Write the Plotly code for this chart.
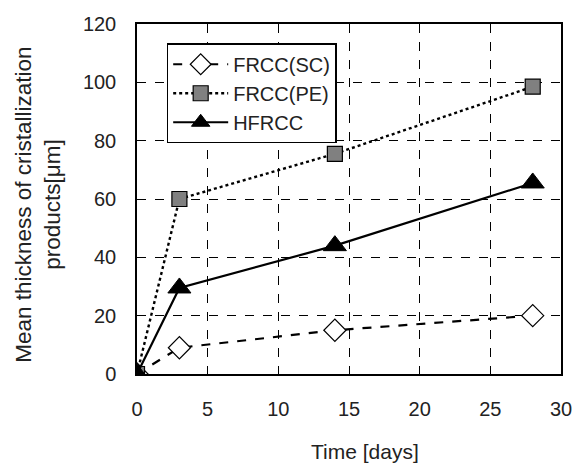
import plotly.graph_objects as go

days = [0, 3, 14, 28]
frcc_sc = [0, 9, 15, 20]
frcc_pe = [0, 60, 75.5, 98.5]
hfrcc = [0, 29.5, 44, 65.5]

x_ticks = [0, 5, 10, 15, 20, 25, 30]
y_ticks = [0, 20, 40, 60, 80, 100, 120]

FONT = "Liberation Sans, Arial"

fig = go.Figure()
fig.add_trace(go.Scatter(x=days, y=frcc_sc, name="FRCC(SC)", mode="lines+markers",
                         line=dict(color="black", width=2.2, dash="dash"),
                         marker=dict(symbol="diamond", size=17, color="white",
                                     line=dict(color="black", width=1.2))))
fig.add_trace(go.Scatter(x=days, y=frcc_pe, name="FRCC(PE)", mode="lines+markers",
                         line=dict(color="black", width=2.4, dash="dot"),
                         marker=dict(symbol="square", size=15, color="#808080",
                                     line=dict(color="black", width=1.2))))
fig.add_trace(go.Scatter(x=days, y=hfrcc, name="HFRCC", mode="lines+markers",
                         line=dict(color="black", width=2.2),
                         marker=dict(symbol="triangle-up", size=20, color="black",
                                     line=dict(color="black", width=1))))

axis_common = dict(showline=True, linecolor="black", linewidth=1.5, mirror=True,
                   showgrid=True, gridcolor="black", gridwidth=1, griddash="dash",
                   zeroline=False, ticks="", tickfont=dict(family=FONT, size=20, color="#222"))

fig.update_xaxes(range=[0, 30], tickvals=x_ticks, ticklabelstandoff=16, **axis_common)
fig.update_yaxes(range=[0, 120], tickvals=y_ticks, ticklabelstandoff=15, **axis_common)

fig.add_annotation(text="Mean thickness of cristallization<br>products[μm]",
                   x=-0.234, xref="paper", xanchor="center", y=0.5, yref="paper",
                   yshift=-6, textangle=-90, showarrow=False,
                   font=dict(family=FONT, size=22.5, color="#222"))

fig.add_annotation(text="Time [days]", x=0.5, xref="paper", y=-0.22, yref="paper",
                   xshift=16, showarrow=False, yanchor="middle",
                   font=dict(family=FONT, size=21, color="#222"))

fig.update_layout(width=584, height=465, margin=dict(l=137, r=18, t=24, b=91),
                  plot_bgcolor="white", paper_bgcolor="white", showlegend=True,
                  legend=dict(x=0.07, y=0.945, xanchor="left", yanchor="top",
                              bgcolor="white", bordercolor="black", borderwidth=1.5,
                              font=dict(family=FONT, size=20, color="#222"),
                              itemwidth=55, tracegroupgap=2))

fig.write_html("out.html")
